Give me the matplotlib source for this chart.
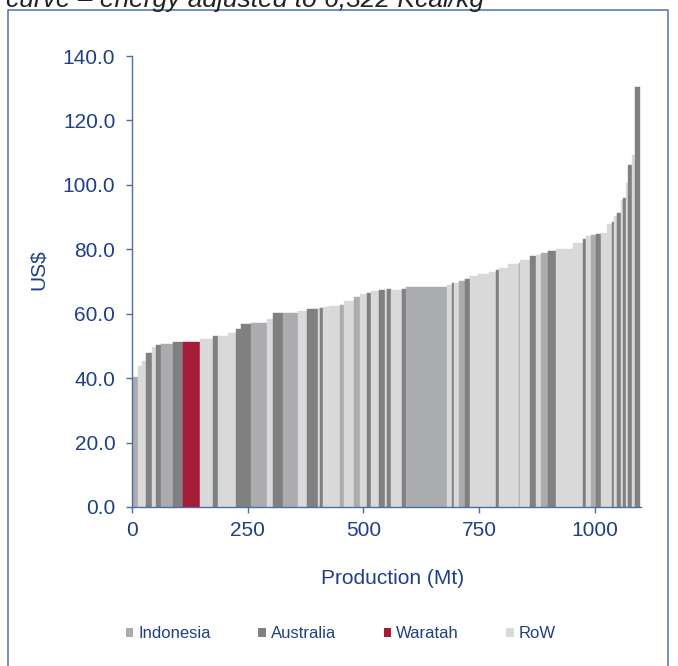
import numpy as np
import matplotlib
matplotlib.use('Agg')
import matplotlib.pyplot as plt
from matplotlib.patches import Patch
from matplotlib.lines import Line2D

# Cost curve segments: production width (Mt), cost (US$), group
widths = [13, 8, 9, 13, 9, 10, 27, 22, 37, 28,
          9, 22, 17, 11, 22, 35, 13, 22, 32, 19,
          24, 4, 7, 13, 24, 9, 22, 13, 13, 9,
          19, 13, 4, 9, 23, 9, 87, 11, 6, 9,
          13, 11, 17, 24, 17, 6, 19, 24, 2, 22,
          13, 11, 14, 18, 37, 22, 6, 11, 11, 11,
          11, 11, 6, 5, 9, 5, 5, 6, 7, 7, 12]
costs = [40.5, 43.8, 45.4, 47.8, 49.8, 50.3, 50.6, 51.2, 51.2, 52.2,
         53.0, 53.0, 54.0, 55.3, 56.8, 57.2, 58.3, 60.1, 60.1, 60.7,
         61.5, 61.8, 61.9, 62.2, 62.5, 62.7, 64.1, 65.1, 66.0, 66.3,
         67.2, 67.4, 67.4, 67.6, 67.5, 67.7, 68.2, 68.9, 69.5, 69.5,
         70.2, 70.8, 71.7, 72.3, 72.8, 73.7, 74.1, 75.5, 75.8, 76.7,
         77.9, 78.3, 78.8, 79.5, 80.0, 81.9, 83.1, 84.0, 84.5, 84.8,
         85.0, 87.9, 88.6, 90.2, 91.4, 95.3, 95.8, 100.5, 106.2, 109.3, 130.3]
groups = ['I', 'R', 'R', 'A', 'R', 'A', 'I', 'A', 'W', 'R',
          'A', 'R', 'R', 'A', 'A', 'I', 'R', 'A', 'I', 'R',
          'A', 'R', 'A', 'R', 'R', 'I', 'R', 'I', 'R', 'A',
          'R', 'A', 'R', 'A', 'R', 'A', 'I', 'R', 'A', 'R',
          'I', 'A', 'R', 'R', 'R', 'A', 'R', 'R', 'I', 'R',
          'A', 'R', 'I', 'A', 'R', 'R', 'A', 'R', 'I', 'A',
          'R', 'R', 'A', 'R', 'A', 'R', 'A', 'R', 'A', 'R', 'A']

group_names = {'I': 'Indonesia', 'A': 'Australia', 'W': 'Waratah', 'R': 'RoW'}
group_colors = {'I': '#ABACB0', 'A': '#808080', 'W': '#A51C36', 'R': '#D9D9D9'}

y_ticks = [0, 20, 40, 60, 80, 100, 120, 140]
x_ticks = [0, 250, 500, 750, 1000]

blue = '#1F3F86'
axis_blue = '#4A6FA5'

plt.rcParams['font.family'] = ['Liberation Sans', 'DejaVu Sans']

fig = plt.figure(figsize=(6.78, 6.66), dpi=100)
ax = fig.add_axes([132 / 678, 1 - 507 / 666, (640.8 - 132) / 678, (507 - 56) / 666])

lefts = np.concatenate([[0], np.cumsum(widths)[:-1]])
cols = [group_colors[g] for g in groups]
ax.bar(lefts, costs, width=widths, align='edge', color=cols,
       edgecolor=cols, linewidth=0.3)

ax.set_xlim(0, 1100)
ax.set_ylim(0, 140)
ax.set_yticks(y_ticks)
ax.set_yticklabels([f'{v:.1f}' for v in y_ticks])
ax.set_xticks(x_ticks)
ax.tick_params(axis='both', colors=axis_blue, labelcolor=blue, labelsize=15,
               length=4, width=1, direction='out')
ax.tick_params(axis='y', pad=8)
ax.tick_params(axis='x', pad=6)
for s in ['top', 'right']:
    ax.spines[s].set_visible(False)
for s in ['left', 'bottom']:
    ax.spines[s].set_color(axis_blue)
    ax.spines[s].set_linewidth(1)

fig.text(38 / 678, 1 - 270 / 666, 'US$', rotation=90, ha='center', va='center',
         color=blue, fontsize=15)
fig.text(393 / 678, 1 - 578 / 666, 'Production (Mt)', ha='center', va='center',
         color=blue, fontsize=15)

handles = [Patch(facecolor=group_colors[k], edgecolor='none', label=group_names[k])
           for k in ['I', 'A', 'W', 'R']]
fig.legend(handles=handles, loc='center', bbox_to_anchor=(341 / 678, 1 - 634 / 666),
           ncol=4, frameon=False, fontsize=12, handlelength=0.45, handleheight=0.45,
           handletextpad=0.3, columnspacing=2.85, labelcolor=blue)

# outer frame of the exhibit
frame = Line2D([8 / 678, 8 / 678, 668 / 678, 668 / 678], [0, 1 - 10 / 666, 1 - 10 / 666, 0],
               transform=fig.transFigure, color='#5B7DB1', linewidth=1.2)
fig.add_artist(frame)

fig.text(6 / 678, 1 - 7 / 666, 'curve \u2013 energy adjusted to 6,322 Kcal/kg',
         ha='left', va='baseline', style='italic', fontsize=19, color='#222222')

fig.savefig('out.png', dpi=100)
